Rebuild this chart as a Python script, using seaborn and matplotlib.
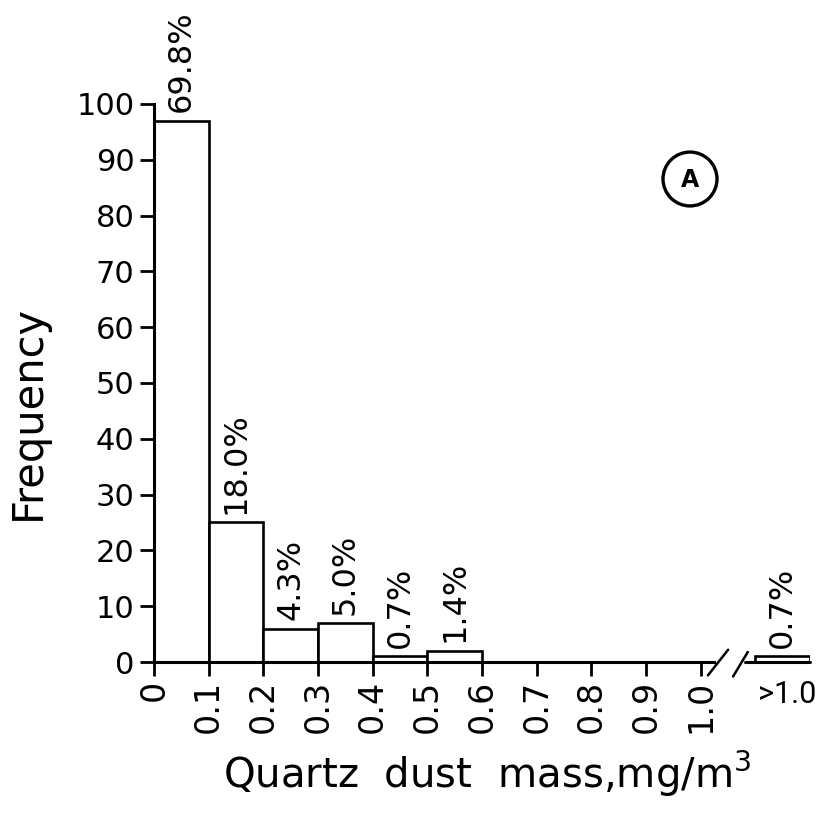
import matplotlib
matplotlib.use("Agg")
import matplotlib.pyplot as plt
import seaborn as sns
import pandas as pd
from matplotlib.patches import Circle

# Histogram bins (mg/m^3) and observed counts
bin_centers = [0.05, 0.15, 0.25, 0.35, 0.45, 0.55, 1.15]
counts = [97, 25, 6, 7, 1, 2, 1]
pct_labels = ["69.8%", "18.0%", "4.3%", "5.0%", "0.7%", "1.4%", "0.7%"]

x_ticks = [0.0, 0.1, 0.2, 0.3, 0.4, 0.5, 0.6, 0.7, 0.8, 0.9, 1.0, 1.158]
x_tick_labels = ["0", "0.1", "0.2", "0.3", "0.4", "0.5", "0.6", "0.7",
                 "0.8", "0.9", "1.0", ">1.0"]
y_ticks = [0, 10, 20, 30, 40, 50, 60, 70, 80, 90, 100]

df = pd.DataFrame({"mass": bin_centers, "freq": counts})

sns.set_theme(style="ticks")
plt.rcParams["font.family"] = ["DejaVu Sans"]
plt.rcParams["text.color"] = "black"
plt.rcParams["axes.labelcolor"] = "black"
plt.rcParams["xtick.color"] = "black"
plt.rcParams["ytick.color"] = "black"

fig = plt.figure(figsize=(8.2, 8.18), dpi=100)
ax = fig.add_axes([0.1878, 0.1907, 0.988 - 0.1878, 0.8729 - 0.1907])

sns.barplot(data=df, x="mass", y="freq", native_scale=True, width=1.0,
            color="white", edgecolor="black", linewidth=1.9, ax=ax,
            errorbar=None, saturation=1)

ax.set_xlim(0, 1.2)
ax.set_ylim(0, 100)

# Percentage annotations above each bar
for xc, h, lab in zip(bin_centers, counts, pct_labels):
    ax.text(xc, h + 1.5, lab, rotation=90, ha="center", va="bottom",
            fontsize=23, clip_on=False)

ax.set_yticks(y_ticks)
ax.set_yticklabels([str(v) for v in y_ticks], fontsize=22)
ax.set_xticks(x_ticks)
ax.set_xticklabels(x_tick_labels, rotation=90, fontsize=24)
last = ax.get_xticklabels()[-1]
last.set_rotation(0)
last.set_fontsize(22)
last.set_fontfamily(["Roboto", "DejaVu Sans"])
ax.xaxis.get_major_ticks()[-1].tick1line.set_visible(False)

ax.tick_params(axis="both", direction="out", length=10, width=2)
ax.tick_params(axis="y", pad=4)
ax.tick_params(axis="x", pad=3)

for side in ("top", "right"):
    ax.spines[side].set_visible(False)
for side in ("left", "bottom"):
    ax.spines[side].set_linewidth(2.2)
    ax.spines[side].set_color("black")

# Broken x axis between 1.0 and the ">1.0" bin
ax.spines["bottom"].set_bounds(0, 1.025)
ax.plot([1.08, 1.2], [0, 0], color="black", lw=2.2, clip_on=False)
ax.plot([1.013, 1.050], [-2.4, 2.2], color="black", lw=1.8, clip_on=False)
ax.plot([1.059, 1.086], [-2.6, 1.8], color="black", lw=1.8, clip_on=False)

ax.set_xlabel("Quartz  dust  mass,mg/m$^3$", fontsize=29)
ax.xaxis.set_label_coords(0.508, -0.155)
ax.set_ylabel("Frequency", fontsize=30)
ax.yaxis.set_label_coords(-0.16, 0.448)

# Panel marker: circled letter
circ = Circle((690 / 820, 1 - 179 / 818), radius=27 / 820,
              transform=fig.transFigure, fill=False, edgecolor="black", lw=2.4)
fig.patches.append(circ)
fig.text(690 / 820, 1 - 180 / 818, "A", ha="center", va="center",
         fontsize=17, fontweight="bold")

fig.savefig("out.png", dpi=100, facecolor="white")
